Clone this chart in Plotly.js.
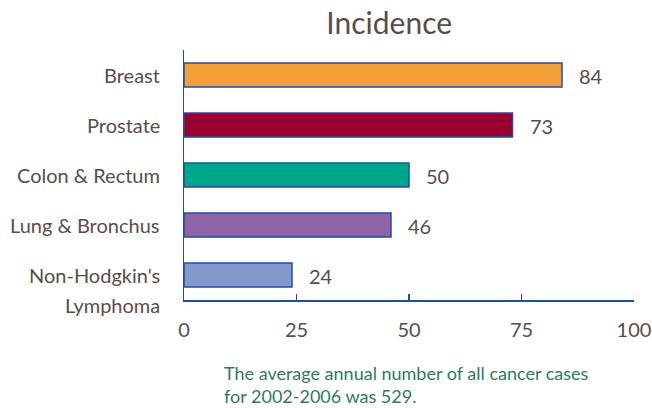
<!DOCTYPE html>
<html>
<head>
<meta charset="utf-8">
<script src="https://cdn.plot.ly/plotly-3.0.1.min.js"></script>
<style>html,body{margin:0;padding:0;background:#fff;}#chart{width:652px;height:408px;}</style>
</head>
<body>
<div id="chart"></div>
<script>
var categories = ["Breast", "Prostate", "Colon & Rectum", "Lung & Bronchus", "Non-Hodgkin's<br>Lymphoma"];
var values = [84, 73, 50, 46, 24];
var barColors = ["#f4a03a", "#990030", "#00a68c", "#9063a8", "#8497cc"];
var xTicks = [0, 25, 50, 75, 100];
var titleText = "Incidence";
var footnote = "The average annual number of all cancer cases<br>for 2002-2006 was 529.";

var FONT = "Lato, 'Open Sans', sans-serif";
var TXT = "#5b4d45";

var trace = {
  type: "bar",
  orientation: "h",
  x: values,
  y: categories,
  marker: {color: barColors, line: {color: "#1f4f9c", width: 1.5}},
  width: 0.48,
  hoverinfo: "none"
};

var annotations = [];
// category labels (one annotation per line for exact line spacing)
categories.forEach(function (c) {
  c.split("<br>").forEach(function (line, i) {
    annotations.push({
      x: 0, xref: "x", y: c, yref: "y",
      text: line, showarrow: false,
      xanchor: "right", yanchor: "middle",
      xshift: -22, yshift: -30 * i,
      font: {family: FONT, size: 20, color: TXT}
    });
  });
});
// value labels
categories.forEach(function (c, i) {
  annotations.push({
    x: values[i], xref: "x", y: c, yref: "y",
    text: String(values[i]), showarrow: false,
    xanchor: "left", yanchor: "middle", xshift: 15, yshift: -1,
    font: {family: FONT, size: 20, color: TXT}
  });
});
annotations.push({
  x: 0, xref: "paper", y: 0, yref: "paper",
  text: footnote, showarrow: false, align: "left",
  xanchor: "left", yanchor: "top", xshift: 38, yshift: -60,
  font: {family: FONT, size: 18, color: "#2f7a5c"}
});

var layout = {
  width: 652, height: 408,
  margin: {l: 184, r: 18, t: 50, b: 108},
  paper_bgcolor: "#fff", plot_bgcolor: "#fff",
  title: {text: titleText, x: 0.456, xanchor: "center", xref: "paper",
          y: 0.943, yanchor: "middle", yref: "container",
          font: {family: FONT, size: 30, color: TXT}},
  showlegend: false,
  bargap: 0.52,
  xaxis: {
    range: [0, 100], tickvals: xTicks, ticktext: xTicks.map(String),
    showgrid: false, zeroline: false,
    showline: true, linecolor: "#1f4f9c", linewidth: 1.5,
    ticks: "inside", ticklen: 6, tickcolor: "#1f4f9c", tickwidth: 1.5,
    ticklabelstandoff: 11,
    tickfont: {family: FONT, size: 20, color: TXT},
    fixedrange: true
  },
  yaxis: {
    categoryorder: "array", categoryarray: categories.slice().reverse(),
    range: [-0.5, 4.5], autorange: false,
    showticklabels: false, showgrid: false, zeroline: false,
    showline: true, linecolor: "#1f4f9c", linewidth: 1.5, ticks: "",
    fixedrange: true
  },
  annotations: annotations
};

Plotly.newPlot("chart", [trace], layout, {displayModeBar: false, staticPlot: true});
</script>
</body>
</html>
